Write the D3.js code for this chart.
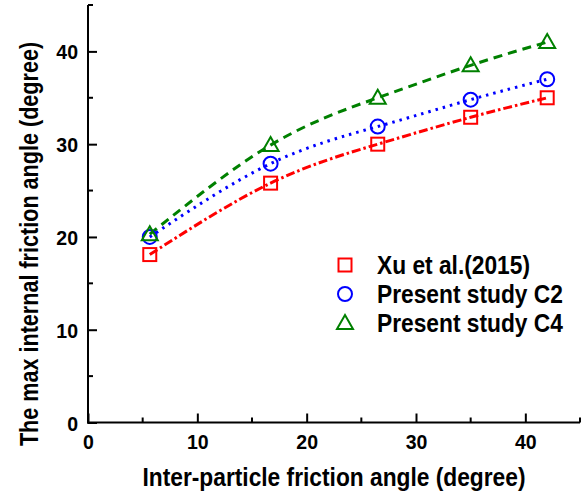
<!DOCTYPE html>
<html><head><meta charset="utf-8">
<script src="https://cdn.jsdelivr.net/npm/d3@7"></script>
<style>body{margin:0;background:#fff}svg{display:block}text{font-family:"Liberation Sans",Arial,sans-serif}</style>
</head><body>
<script>
const xValues = [5.65, 16.7, 26.5, 35, 42];
const xuValues = [18.1, 25.8, 30.0, 32.9, 35.0];
const c2Values = [20.0, 27.9, 31.9, 34.8, 37.0];
const c4Values = [20.3, 29.9, 35.0, 38.5, 41.0];
const seriesNames = ["Xu et al.(2015)", "Present study C2", "Present study C4"];
const xTicks = [0, 10, 20, 30, 40];
const yTicks = [0, 10, 20, 30, 40];
const xTitle = "Inter-particle friction angle (degree)";
const yTitle = "The max internal friction angle (degree)";

const W = 581, H = 497;
const L = 88, R = 580, T = 5, B = 422.5;
const svg = d3.select("body").append("svg").attr("width", W).attr("height", H);
const x = d3.scaleLinear().domain([0, 45]).range([L, R]);
const y = d3.scaleLinear().domain([0, 45]).range([B, T]);

// condense text horizontally (reference glyphs are taller than wide)
function condense(sel, k) {
  sel.each(function () {
    const len = this.getComputedTextLength();
    d3.select(this).attr("textLength", len * k).attr("lengthAdjust", "spacingAndGlyphs");
  });
}

const series = [
  {name: seriesNames[0], vals: xuValues, color: "#ff0000", dash: "9,3,2.5,3", sym: "square"},
  {name: seriesNames[1], vals: c2Values, color: "#0000ff", dash: "2.5,5", sym: "circle"},
  {name: seriesNames[2], vals: c4Values, color: "#008000", dash: "9,6", sym: "triangle"}
];

// axes
const minorX = d3.range(5, 46, 10);
const minorY = d3.range(5, 46, 10);
const ax = svg.append("g").attr("transform", `translate(0,${B})`);
ax.call(d3.axisBottom(x).tickValues(xTicks).tickSize(-9).tickPadding(14).tickFormat(d3.format("d")));
ax.select(".domain").remove();
ax.selectAll(".tick line").attr("stroke-width", 2);
ax.selectAll(".tick text").attr("font-size", 21).attr("font-weight", "bold").attr("fill", "#000")
  .attr("dy", null).attr("y", 26);
condense(ax.selectAll(".tick text"), 0.93);
ax.selectAll(".minor").data(minorX).enter().append("line")
  .attr("x1", d => x(d)).attr("x2", d => x(d)).attr("y1", 0).attr("y2", -5)
  .attr("stroke", "#000").attr("stroke-width", 2);
ax.append("line").attr("x1", L - 1).attr("x2", R).attr("stroke", "#000").attr("stroke-width", 2);

const ay = svg.append("g").attr("transform", `translate(${L},0)`);
ay.call(d3.axisLeft(y).tickValues(yTicks).tickSize(-9).tickPadding(10).tickFormat(d3.format("d")));
ay.select(".domain").remove();
ay.selectAll(".tick line").attr("stroke-width", 2);
ay.selectAll(".tick text").attr("font-size", 21).attr("font-weight", "bold").attr("fill", "#000")
  .attr("dy", "0.36em");
condense(ay.selectAll(".tick text"), 0.93);
ay.selectAll(".minor").data(minorY).enter().append("line")
  .attr("y1", d => y(d)).attr("y2", d => y(d)).attr("x1", 0).attr("x2", 5)
  .attr("stroke", "#000").attr("stroke-width", 2);
ay.append("line").attr("y1", T).attr("y2", B + 1).attr("stroke", "#000").attr("stroke-width", 2);

// titles
const xt = svg.append("text").attr("x", (L + R) / 2).attr("y", 486).attr("text-anchor", "middle")
  .attr("font-size", 25).attr("font-weight", "bold").text(xTitle);
condense(xt, 0.91);
svg.append("text").attr("transform", "translate(38,244) rotate(-90) scale(1,1.2)").attr("text-anchor", "middle")
  .attr("font-size", 21.6).attr("font-weight", "bold").text(yTitle);

// lines
const line = d3.line().x(d => x(d[0])).y(d => y(d[1])).curve(d3.curveNatural);
series.forEach(s => {
  const pts = xValues.map((v, i) => [v, s.vals[i]]);
  svg.append("path").attr("d", line(pts)).attr("fill", "none")
    .attr("stroke", s.color).attr("stroke-width", 3).attr("stroke-dasharray", s.dash);
});

function drawSym(g, sym, cx, cy, color) {
  if (sym === "square") {
    g.append("rect").attr("x", cx - 6.5).attr("y", cy - 6.5).attr("width", 13).attr("height", 13)
      .attr("fill", "none").attr("stroke", color).attr("stroke-width", 2);
  } else if (sym === "circle") {
    g.append("circle").attr("cx", cx).attr("cy", cy).attr("r", 7)
      .attr("fill", "none").attr("stroke", color).attr("stroke-width", 2);
  } else {
    const s = 8;
    g.append("path").attr("d", `M${cx},${cy - s}L${cx + s},${cy + s * 0.75}L${cx - s},${cy + s * 0.75}Z`)
      .attr("fill", "none").attr("stroke", color).attr("stroke-width", 2);
  }
}
series.forEach(s => {
  xValues.forEach((v, i) => drawSym(svg, s.sym, x(v), y(s.vals[i]), s.color));
});

// legend
const lg = svg.append("g");
series.forEach((s, i) => {
  const cy = 265 + i * 29;
  drawSym(lg, s.sym, 345, cy, s.color);
  const t = lg.append("text").attr("x", 377).attr("y", cy + 9).attr("font-size", 25).attr("font-weight", "bold")
    .attr("fill", "#000").text(s.name);
  condense(t, 0.91);
});
</script>
</body></html>
